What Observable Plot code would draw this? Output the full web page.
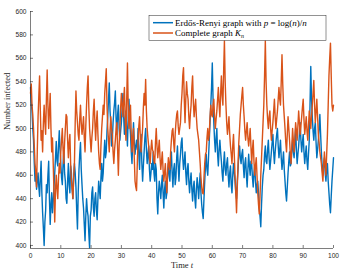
<!DOCTYPE html>
<html>
<head>
<meta charset="utf-8">
<script src="https://cdn.jsdelivr.net/npm/d3@7"></script>
<script src="https://cdn.jsdelivr.net/npm/@observablehq/plot@0.6"></script>
<style>
  html, body { margin: 0; padding: 0; background: #fff; }
  #chart { position: relative; width: 341px; height: 272px; }
</style>
</head>
<body>
<div id="chart"></div>
<script>
// Time step between readings
const tStep = 0.25;

// Erdős–Rényi graph, p = log(n)/n  (t = 0, 0.25, ..., 100)
const erdosRenyi = [
  535,522,515,500,490,470,455,462,448,455,462,450,442,458,472,445,428,415,400,420,
  430,452,445,460,472,440,418,435,445,428,438,450,462,475,489,472,468,485,498,482,
  470,458,452,470,482,462,455,440,436,455,470,452,445,468,462,448,440,458,470,462,
  450,430,414,445,465,478,488,465,452,440,432,418,404,425,440,430,425,410,398,425,
  430,445,450,432,425,440,445,430,422,440,455,448,440,458,470,455,462,478,490,475,
  480,498,510,525,539,515,505,485,490,505,515,522,532,508,495,512,520,500,490,498,
  505,518,530,510,495,508,515,498,485,510,525,505,495,480,470,490,505,488,478,485,
  490,482,500,478,465,485,495,470,455,468,480,492,500,482,470,478,485,465,455,462,
  470,465,480,462,455,470,465,440,427,445,455,448,440,452,460,445,432,448,455,440,
  445,462,470,460,455,472,480,462,450,465,470,452,458,475,485,468,455,470,478,488,
  492,475,465,472,480,462,452,465,470,455,445,455,462,448,438,450,455,440,432,448,
  458,450,440,452,462,445,435,428,423,440,455,468,478,465,460,475,490,505,520,535,
  556,525,505,490,480,492,500,478,468,482,490,480,472,462,455,470,480,465,460,470,
  475,460,450,462,468,452,445,460,470,462,455,445,440,455,465,478,485,475,470,478,
  482,468,458,470,475,460,450,465,478,468,460,472,470,458,450,462,468,455,445,452,
  455,445,432,425,416,435,450,460,465,478,485,472,470,482,490,475,465,472,480,488,
  495,480,470,480,488,495,500,485,475,482,490,475,465,472,480,465,455,445,438,450,
  462,472,480,468,470,482,490,480,475,488,500,482,470,478,485,495,505,490,480,488,
  495,480,470,478,485,472,465,478,490,520,553,525,510,498,490,500,505,488,475,482,
  490,500,512,495,480,468,460,470,475,462,455,465,470,455,445,435,428,442,455,465,
  475
];

// Complete graph K_n  (t = 0, 0.25, ..., 100)
const completeGraph = [
  530,538,520,512,500,485,470,462,450,482,510,528,545,515,490,498,480,505,520,505,
  495,525,550,520,500,515,530,500,480,492,470,445,420,448,460,448,440,458,470,462,
  480,490,500,482,470,488,500,512,510,490,475,488,495,470,455,448,440,458,470,505,
  532,515,505,495,490,508,520,505,495,502,510,492,480,502,520,535,545,518,500,490,
  480,492,500,515,525,505,490,505,515,495,480,470,465,485,500,510,520,512,530,540,
  551,520,500,490,480,498,510,500,495,480,470,482,490,500,505,482,460,485,500,518,
  530,520,510,525,535,508,490,525,556,520,500,512,520,495,480,492,500,475,455,450,
  447,470,490,502,510,492,480,490,500,518,530,520,542,515,500,492,485,475,470,482,
  490,482,480,472,470,488,500,485,475,482,490,475,465,472,480,465,455,462,470,455,
  445,462,475,468,465,480,490,498,500,488,480,495,505,512,515,502,495,500,505,520,
  530,545,552,525,505,525,540,530,525,510,500,512,520,535,545,522,510,518,525,510,
  500,495,490,480,470,458,450,445,444,458,470,478,480,492,500,490,495,510,520,512,
  510,520,525,510,500,508,515,525,535,520,510,530,545,528,520,550,575,540,520,505,
  495,502,510,495,485,478,470,485,495,478,460,445,428,450,470,488,500,512,520,528,
  535,520,510,498,490,498,505,492,485,492,500,485,470,482,490,472,460,468,475,460,
  445,435,427,442,460,475,490,505,520,545,575,540,520,508,500,510,515,500,490,498,
  505,515,525,510,500,508,515,525,535,525,520,540,563,538,520,510,500,488,480,495,
  510,500,490,478,470,485,500,490,480,492,505,498,490,502,515,505,495,502,510,518,
  525,508,495,502,510,498,490,502,515,508,500,510,520,530,541,520,505,515,525,510,
  495,488,480,475,470,462,455,468,480,470,460,478,495,520,545,560,573,545,520,515,
  520
];

const xTicks = [0,10,20,30,40,50,60,70,80,90,100];
const yTicks = [400,420,440,460,480,500,520,540,560,580,600];

const seriesNames = ["Erdős-Renyi graph with p = log(n)/n", "Complete graph K_n"];
const seriesColors = ["#0072BD", "#D95319"];

const rows = [];
erdosRenyi.forEach((v, i) => rows.push({t: +(i * tStep).toFixed(2), v, s: seriesNames[0]}));
completeGraph.forEach((v, i) => rows.push({t: +(i * tStep).toFixed(2), v, s: seriesNames[1]}));

const yMin = 397.4;
const tickFont = "Liberation Sans, Arial, sans-serif";
const serif = "Liberation Serif, 'DejaVu Serif', serif";
const axisColor = "#262626";

const plot = Plot.plot({
  width: 341,
  height: 272,
  marginLeft: 30,
  marginRight: 8,
  marginTop: 11,
  marginBottom: 24,
  style: {fontFamily: tickFont, fontSize: "6.6px", color: axisColor, background: "#fff"},
  x: {domain: [0, 100], ticks: xTicks, label: null},
  y: {domain: [yMin, 600], ticks: yTicks, label: null},
  color: {domain: seriesNames, range: seriesColors},
  marks: [
    Plot.line(rows, {x: "t", y: "v", stroke: "s", z: "s", strokeWidth: 1.4, strokeLinejoin: "round"}),
    Plot.ruleX([0], {stroke: axisColor, strokeWidth: 0.6}),
    Plot.ruleY([yMin], {stroke: axisColor, strokeWidth: 0.6}),
    Plot.axisX({ticks: xTicks, tickSize: -3, tickPadding: 8, stroke: axisColor, strokeWidth: 0.6, fill: axisColor, label: null}),
    Plot.axisY({ticks: yTicks, tickSize: -3, tickPadding: 7, stroke: axisColor, strokeWidth: 0.6, fill: axisColor, label: null}),
    Plot.text(["Time t"], {frameAnchor: "bottom", dy: 19, text: d => d, fontFamily: serif, fontSize: 8.5, fill: axisColor}),
    Plot.text(["Number infected"], {frameAnchor: "left", dx: -23, rotate: -90, text: d => d, fontFamily: serif, fontSize: 8.5, fill: axisColor})
  ]
});

document.getElementById("chart").appendChild(plot);

// Italic variable name in the x label
const svg = d3.select(plot);
svg.selectAll("text").each(function() {
  const el = d3.select(this);
  if (el.text() === "Time t") {
    el.text(null);
    el.append("tspan").text("Time ");
    el.append("tspan").attr("font-style", "italic").text("t");
  }
});

// Legend
const lg = svg.append("g").attr("class", "legend").attr("text-anchor", "start");
const lx = 149, ly = 15.5, lw = 177, lh = 25;
lg.append("rect").attr("x", lx).attr("y", ly).attr("width", lw).attr("height", lh)
  .attr("fill", "#fff").attr("stroke", "#262626").attr("stroke-width", 0.5);
const entries = [
  {color: seriesColors[0], y: ly + 7.2, parts: [["Erdős-Renyi graph with ", "normal"], ["p", "italic"], [" = log(", "normal"], ["n", "italic"], [")/", "normal"], ["n", "italic"]]},
  {color: seriesColors[1], y: ly + 17.5, parts: [["Complete graph ", "normal"], ["K", "italic"], ["n", "sub"]]}
];
entries.forEach(e => {
  lg.append("line").attr("x1", lx + 4).attr("x2", lx + 24).attr("y1", e.y).attr("y2", e.y)
    .attr("stroke", e.color).attr("stroke-width", 1.5);
  const t = lg.append("text").attr("x", lx + 26).attr("y", e.y).attr("dy", "0.32em")
    .attr("text-anchor", "start")
    .attr("font-family", serif).attr("font-size", 9).attr("fill", "#000");
  e.parts.forEach(([s, st]) => {
    const sp = t.append("tspan").text(s);
    if (st === "italic") sp.attr("font-style", "italic");
    if (st === "sub") sp.attr("font-style", "italic").attr("font-size", 6).attr("dy", "2");
  });
});
</script>
</body>
</html>
